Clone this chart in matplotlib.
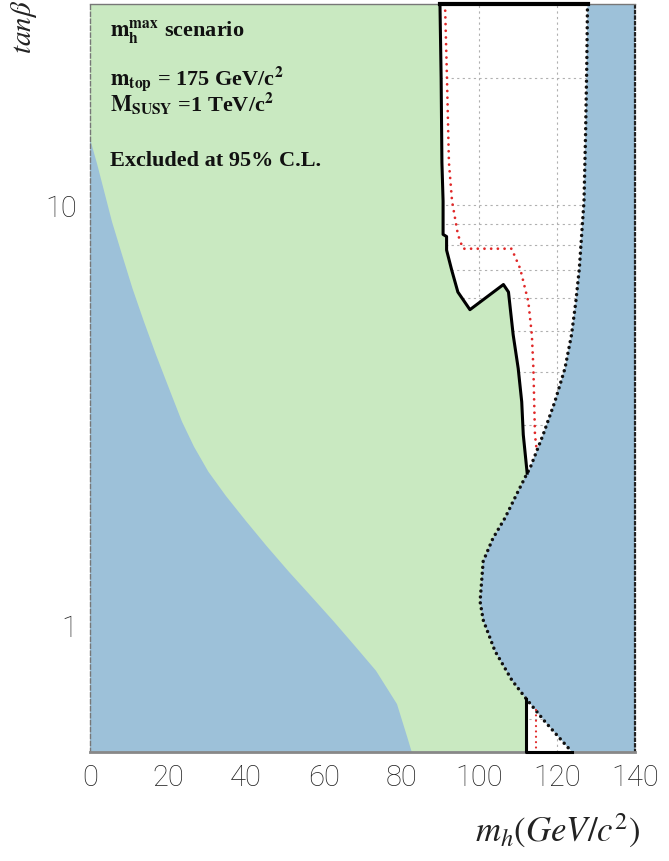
import matplotlib.pyplot as plt

plt.rcParams['mathtext.fontset'] = 'stix'

MH_MIN, MH_MAX = 0, 140
TB_MIN, TB_MAX = 0.5, 30

# theoretically inaccessible region, low-mh side (mh, tanb)
low_mh = [0, 1.80, 3.47, 5.65, 8.22, 10.92, 13.87, 16.95, 20.29, 23.63, 26.71, 30.39,
          34.93, 40.07, 45.47, 51.12, 56.90, 62.68, 68.20, 73.47, 78.86, 81.56, 82.64]
low_tb = [14.35, 12.52, 10.91, 9.11, 7.61, 6.32, 5.27, 4.40, 3.66, 3.05, 2.66, 2.32,
          2.03, 1.77, 1.54, 1.34, 1.17, 1.02, 0.89, 0.78, 0.65, 0.54, 0.5]

# theoretical upper bound on mh (dotted), top to bottom
max_mh = [127.8, 127.6, 127.3, 126.9, 126.3, 125.7, 124.8, 123.7, 122.0, 119.4, 116.4,
          113.0, 112.3, 109.6, 106.6, 103.5, 101.0, 100.2, 101.0, 104.0, 108.4, 112.0,
          116.9, 123.8]
max_tb = [30, 21.1, 14.7, 10.2, 8.49, 7.05, 5.88, 4.91, 4.08, 3.40, 2.84,
          2.36, 2.30, 2.05, 1.80, 1.61, 1.42, 1.14, 1.03, 0.87, 0.74, 0.67,
          0.59, 0.5]

# observed 95% CL exclusion contour
obs_mh = [89.9, 90.2, 90.4, 90.7, 90.7, 91.6, 91.6, 92.9, 94.5, 97.6, 106.2, 107.5,
          108.7, 110.0, 110.9, 111.3, 112.3]
obs_tb = [30, 20, 12.6, 10.2, 8.5, 8.4, 7.8, 7.0, 6.2, 5.63, 6.46, 6.2,
          4.91, 4.08, 3.40, 2.84, 2.30]
obs_low_mh = [112.0, 112.0, 123.8]
obs_low_tb = [0.67, 0.5, 0.5]

# expected exclusion contour
exp_mh = [91.2, 91.7, 92.2, 93.0, 94.5, 95.8, 108.3, 110.5, 112.6, 113.5, 113.9,
          114.1, 114.3, 114.7]
exp_tb = [30, 20, 12.6, 10.2, 8.5, 7.86, 7.86, 7.05, 5.88, 4.91, 4.08,
          3.40, 2.84, 2.63]
exp_low_mh = [114.5, 114.5]
exp_low_tb = [0.63, 0.5]

xticks = [0, 20, 40, 60, 80, 100, 120, 140]
yticks = [1, 10]
yminor = [0.6, 0.7, 0.8, 0.9, 2, 3, 4, 5, 6, 7, 8, 9, 20, 30]

green = '#c9e9c1'
blue = '#9dc1d9'

fig = plt.figure(figsize=(6.69, 8.62), dpi=100)
ax = fig.add_axes([90/669, 109/862, 545/669, 748/862])
ax.set_yscale('log')
ax.set_xlim(MH_MIN, MH_MAX)
ax.set_ylim(TB_MIN, TB_MAX)

# excluded region: left edge -> observed contour -> theory bound -> bottom
i_meet = max_tb.index(obs_tb[-1])
i_bot = max_tb.index(obs_low_tb[0])
gx = [MH_MIN] + obs_mh + max_mh[i_meet + 1:i_bot + 1] + [obs_low_mh[1], MH_MIN]
gy = [TB_MAX] + obs_tb + max_tb[i_meet + 1:i_bot + 1] + [TB_MIN, TB_MIN]
ax.fill(gx, gy, color=green, lw=0, zorder=1)

# theoretically inaccessible regions
ax.fill([MH_MIN] + low_mh, [TB_MIN] + low_tb, color=blue, lw=0, zorder=1.1)
ax.fill(max_mh + [MH_MAX, MH_MAX], max_tb + [TB_MIN, TB_MAX], color=blue, lw=0, zorder=1.1)

# contours
ax.plot(max_mh, max_tb, color='#111111', lw=2.5, linestyle=(0, (0.01, 1.7)),
        dash_capstyle='round', zorder=3)
ax.plot(exp_mh, exp_tb, color='#e02828', lw=2.0, linestyle=(0, (0.01, 2.4)),
        dash_capstyle='round', zorder=3)
ax.plot(exp_low_mh, exp_low_tb, color='#e02828', lw=1.6, linestyle=(0, (0.01, 2.4)),
        dash_capstyle='round', zorder=3)
ax.plot(obs_mh, obs_tb, color='black', lw=2.2, zorder=4)
ax.plot(obs_low_mh, obs_low_tb, color='black', lw=2.2, zorder=4, clip_on=False)
ax.plot([obs_mh[0], max_mh[0]], [TB_MAX, TB_MAX], color='black', lw=3.0,
        zorder=4, clip_on=False)

# grid only shows through the allowed (white) area
ax.set_axisbelow(True)
ax.set_xticks(xticks)
ax.set_yticks(yticks, labels=[str(t) for t in yticks])
ax.set_yticks(yminor, minor=True)
ax.yaxis.set_minor_formatter(plt.NullFormatter())
ax.grid(True, axis='x', which='major', color='#b0b0b0', lw=0.8, linestyle=(0, (2, 3)))
ax.grid(True, axis='y', which='both', color='#b0b0b0', lw=0.8, linestyle=(0, (2, 3)))
ax.tick_params(axis='both', which='both', length=0)
ax.tick_params(axis='x', pad=8)
ax.tick_params(axis='y', pad=9)
for lab in ax.get_xticklabels() + ax.get_yticklabels():
    lab.set_family('Roboto')
    lab.set_fontweight('light')
    lab.set_fontsize(21)
    lab.set_color('#222222')

ax.spines['left'].set_color('#777777')
ax.spines['left'].set_linestyle((0, (3, 2)))
ax.spines['left'].set_linewidth(1.0)
ax.spines['top'].set_color('#777777')
ax.spines['top'].set_linewidth(1.0)
ax.spines['bottom'].set_color('#888888')
ax.spines['bottom'].set_linewidth(2.0)
ax.spines['right'].set_color('#222222')
ax.spines['right'].set_linestyle((0, (1, 1.5)))
ax.spines['right'].set_linewidth(1.6)

# scenario description
txt = dict(transform=ax.transAxes, family='Liberation Serif', fontweight='bold',
           fontsize=16, color='#111111', va='baseline', ha='left')
ax.text(0.037, 0.957, r'$\mathbf{m_h^{max}}$ scenario', **txt)
ax.text(0.037, 0.893, r'$\mathbf{m_{top}}$ = 175 GeV/c$^\mathbf{2}$', **txt)
ax.text(0.037, 0.857, r'$\mathbf{M_{SUSY}}$ =1 TeV/c$^\mathbf{2}$', **txt)
ax.text(0.037, 0.785, 'Excluded at 95% C.L.', **txt)

# axis titles
fig.text(24/669, 1.0, r'$tan\beta$', rotation=90, ha='center', va='top',
         fontsize=21, color='#222222')
fig.text(640/669, 1 - 842/862, r'$m_h(GeV/c^2)$', ha='right', va='baseline',
         fontsize=25, color='#222222')

fig.savefig('out.png', dpi=100)
